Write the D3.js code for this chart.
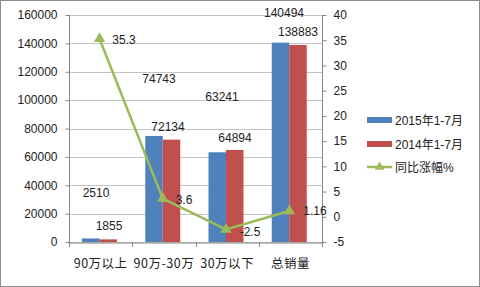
<!DOCTYPE html>
<html><head><meta charset="utf-8">
<script src="https://cdn.jsdelivr.net/npm/d3@7/dist/d3.min.js"></script>
<style>
body{margin:0;background:#fff;}
svg{display:block;font-family:"Liberation Sans",Arial,sans-serif;}
</style></head>
<body>
<svg id="c" width="480" height="287"></svg>
<script>
const categories = ["90万以上","90万-30万","30万以下","总销量"];
const sales2015 = [2510, 74743, 63241, 140494];
const sales2014 = [1855, 72134, 64894, 138883];
const growth = [35.3, 3.6, -2.5, 1.16];
const leftTicks = [0,20000,40000,60000,80000,100000,120000,140000,160000];
const rightTicks = [-5,0,5,10,15,20,25,30,35,40];
const seriesNames = ["2015年1-7月","2014年1-7月","同比涨幅%"];
// manually-placed label offsets as in reference (label positions dragged in original)
const label2015Pos = [[96,193],[159,79],[222,97],[284,13]];
const label2014Pos = [[109,226],[168,127],[235,138],[298,32]];
const growthLabelPos = [[124,40],[184,200],[250,232],[315,211]];

const svg = d3.select("#c");
const colors = {b:"#4F81BD", r:"#C0504D", g:"#9BBB59"};

svg.append("rect").attr("x",0.5).attr("y",0.5).attr("width",479).attr("height",286)
  .attr("fill","#fff").attr("stroke","#8c8c8c");

const x0 = 69, x1 = 322, yTop = 15, yBot = 242;
const x = d3.scaleBand().domain(categories).range([x0,x1]);
const yL = d3.scaleLinear().domain([0,160000]).range([yBot,yTop]);
const yR = d3.scaleLinear().domain([-5,40]).range([yBot,yTop]);

// gridlines
svg.append("g").selectAll("line").data(leftTicks).join("line")
  .attr("x1",x0).attr("x2",x1).attr("y1",d=>Math.round(yL(d))+0.5).attr("y2",d=>Math.round(yL(d))+0.5)
  .attr("stroke","#c4c4c4");

// left axis
const gL = svg.append("g").attr("transform",`translate(${x0+0.5},0)`)
  .call(d3.axisLeft(yL).tickValues(leftTicks).tickFormat(d=>d).tickSize(4).tickPadding(8));
// right axis
const gR = svg.append("g").attr("transform",`translate(${x1+0.5},0)`)
  .call(d3.axisRight(yR).tickValues(rightTicks).tickFormat(d=>d).tickSize(4).tickPadding(7));
// bottom axis
const gB = svg.append("g").attr("transform",`translate(0,${yBot+0.5})`)
  .call(d3.axisBottom(x).tickSize(0).tickPadding(17));
// category ticks between bands
svg.append("g").selectAll("line").data(d3.range(categories.length+1)).join("line")
  .attr("x1",i=>Math.round(x0+i*x.bandwidth())+0.5).attr("x2",i=>Math.round(x0+i*x.bandwidth())+0.5)
  .attr("y1",yBot).attr("y2",yBot+5).attr("stroke","#868686");

[gL,gR,gB].forEach(g=>{
  g.selectAll("path").attr("stroke","#868686");
  g.selectAll("line").attr("stroke","#868686");
  g.selectAll("text").attr("font-size",12).attr("fill","#222")
   .attr("font-family","'Liberation Sans','Noto Sans CJK SC',sans-serif");
});
gL.select(".domain").attr("d",`M0,${yTop}V${yBot}`);
gR.select(".domain").attr("d",`M0,${yTop}V${yBot}`);
gB.selectAll("text").attr("font-family","'Noto Sans CJK SC','Liberation Sans',sans-serif")
  .attr("font-size",12.5).attr("letter-spacing",0.5);

const bw = 17.5, off = 13;
const gBars = svg.append("g");
gBars.selectAll(".b").data(sales2015).join("rect")
  .attr("x",(d,i)=>x(categories[i])+off).attr("width",bw)
  .attr("y",d=>yL(d)).attr("height",d=>yBot-yL(d)).attr("fill",colors.b);
gBars.selectAll(".r").data(sales2014).join("rect")
  .attr("x",(d,i)=>x(categories[i])+off+bw).attr("width",bw)
  .attr("y",d=>yL(d)).attr("height",d=>yBot-yL(d)).attr("fill",colors.r);

// line
const cx = (i)=>x(categories[i])+off+bw;
const line = d3.line().x((d,i)=>cx(i)).y(d=>yR(d));
svg.append("path").datum(growth).attr("d",line).attr("fill","none")
  .attr("stroke",colors.g).attr("stroke-width",2.5);
const tri = d3.symbol().type(d3.symbolTriangle).size(55);
svg.append("g").selectAll("path").data(growth).join("path")
  .attr("d",tri).attr("transform",(d,i)=>`translate(${cx(i)},${yR(d)})`).attr("fill",colors.g);

// labels
const lab = svg.append("g").attr("font-size",12).attr("fill","#222").attr("text-anchor","middle");
lab.selectAll(".l1").data(sales2015).join("text").attr("x",(d,i)=>label2015Pos[i][0]).attr("y",(d,i)=>label2015Pos[i][1]+4).text(d=>d);
lab.selectAll(".l2").data(sales2014).join("text").attr("x",(d,i)=>label2014Pos[i][0]).attr("y",(d,i)=>label2014Pos[i][1]+4).text(d=>d);
lab.selectAll(".l3").data(growth).join("text").attr("x",(d,i)=>growthLabelPos[i][0]).attr("y",(d,i)=>growthLabelPos[i][1]+4).text(d=>d);

// legend
const lg = svg.append("g").attr("font-size",12).attr("fill","#222")
  .attr("font-family","'Liberation Sans','Noto Sans CJK SC',sans-serif");
const ly = [120,144,167];
lg.append("rect").attr("x",367).attr("y",ly[0]-3).attr("width",25).attr("height",6).attr("fill",colors.b);
lg.append("rect").attr("x",367).attr("y",ly[1]-3).attr("width",25).attr("height",6).attr("fill",colors.r);
lg.append("line").attr("x1",367).attr("x2",392).attr("y1",ly[2]).attr("y2",ly[2]).attr("stroke",colors.g).attr("stroke-width",2.5);
lg.append("path").attr("d",d3.symbol().type(d3.symbolTriangle).size(40)).attr("transform",`translate(379.5,${ly[2]})`).attr("fill",colors.g);
lg.selectAll("text").data(seriesNames).join("text").attr("x",395).attr("y",(d,i)=>ly[i]+4.5).text(d=>d);
</script>
</body></html>
